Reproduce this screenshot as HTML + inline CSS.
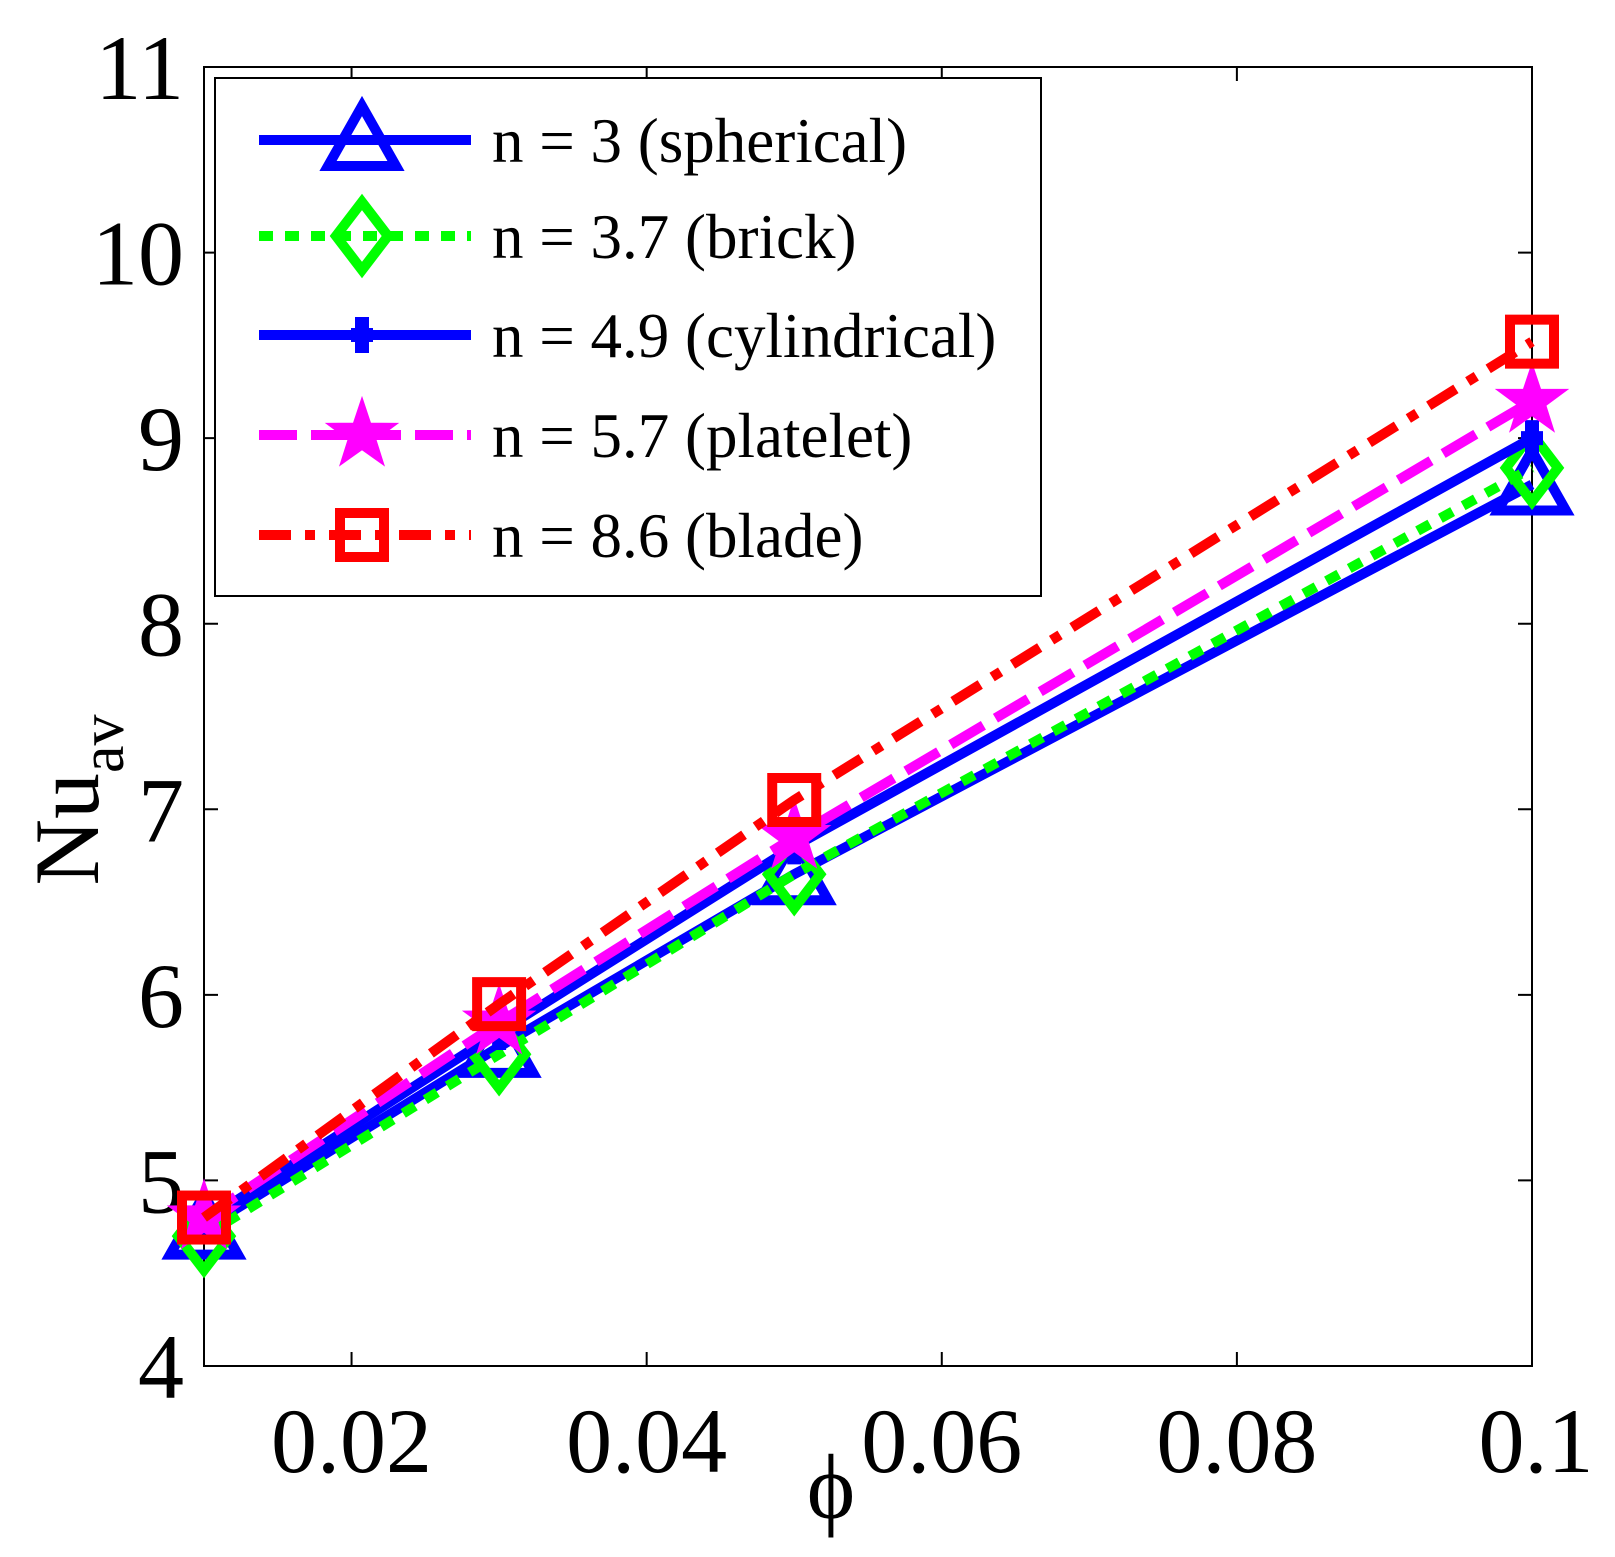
<!DOCTYPE html>
<html><head><meta charset="utf-8"><style>
html,body{margin:0;padding:0;background:#fff;}
svg{display:block;font-family:"Liberation Serif",serif;}
</style></head><body>
<svg id="chart" width="1615" height="1557" viewBox="0 0 1615 1557" xmlns="http://www.w3.org/2000/svg">
<rect width="1615" height="1557" fill="#fff"/>
<g id="plot"></g>
</svg>
<script>
const xs = [0.01, 0.03, 0.05, 0.1];
const sph = [4.74, 5.72, 6.65, 8.75];
const brick = [4.7, 5.68, 6.65, 8.84];
const cyl = [4.78, 5.8, 6.8, 9.0];
const plat = [4.8, 5.85, 6.85, 9.2];
const blade = [4.8, 5.95, 7.05, 9.52];
const labels = ["n = 3 (spherical)", "n = 3.7 (brick)", "n = 4.9 (cylindrical)", "n = 5.7 (platelet)", "n = 8.6 (blade)"];
const xTicks = [0.02, 0.04, 0.06, 0.08, 0.1];
const xTickLabels = ["0.02", "0.04", "0.06", "0.08", "0.1"];
const yTicks = [4, 5, 6, 7, 8, 9, 10, 11];

const L=204,R=1532,T=67,B=1366;
const X=v=>L+(v-0.01)/(0.1-0.01)*(R-L);
const Y=v=>B-(v-4)/(11-4)*(B-T);
const NS="http://www.w3.org/2000/svg";
const g=document.getElementById('plot');
function mk(tag,attrs,parent){const e=document.createElementNS(NS,tag);for(const k in attrs)e.setAttribute(k,attrs[k]);(parent||g).appendChild(e);return e;}

let ax=mk('rect',{x:L,y:T,width:R-L,height:B-T,fill:'none',stroke:'#000','stroke-width':2});


xTicks.forEach((t,i)=>{
  const x=X(t);
  let tk=mk('path',{d:`M${x} ${B}V${B-14}M${x} ${T}V${T+14}`,stroke:'#000','stroke-width':2});
  
  
  let tx=mk('text',{x:i==4?x+4:x,y:1472,'font-size':92,'text-anchor':'middle'});
  tx.textContent=xTickLabels[i];
  
  
});
yTicks.forEach(t=>{
  const y=Y(t);
  let tk=mk('path',{d:`M${L} ${y}H${L+14}M${R} ${y}H${R-14}`,stroke:'#000','stroke-width':2});
  
  
  let tx=mk('text',{x:184,y:y+32,'font-size':92,'text-anchor':'end'});
  tx.textContent=String(t);
  
  
});
let xl=mk('text',{x:831,y:1518,'font-size':92,'text-anchor':'middle'});
xl.textContent='\u03D5';


let yl=mk('text',{transform:'translate(98,800) rotate(-90)','font-size':92,'text-anchor':'middle'});
yl.innerHTML='Nu<tspan font-size="62" dy="25">av</tspan>';



const series=[
 {d:sph,c:'#0000ff',dash:'',m:'tri',n:'spherical'},
 {d:brick,c:'#00ff00',dash:'14 12',m:'dia',n:'brick'},
 {d:cyl,c:'#0000ff',dash:'',m:'dot',n:'cylindrical'},
 {d:plat,c:'#ff00ff',dash:'38 14',m:'star',n:'platelet'},
 {d:blade,c:'#ff0000',dash:'32 14 10 14',m:'sq',n:'blade'}
];
function marker(type,x,y,c,parent){
  let e;
  if(type=='tri') e=mk('path',{d:`M${x} ${y-34}L${x+34} ${y+26}L${x-34} ${y+26}Z`,fill:'none',stroke:c,'stroke-width':10},parent);
  else if(type=='dia') e=mk('path',{d:`M${x} ${y-34}L${x+26} ${y}L${x} ${y+34}L${x-26} ${y}Z`,fill:'none',stroke:c,'stroke-width':10},parent);
  else if(type=='dot') e=mk('path',{d:`M${x} ${y-18}V${y+18}M${x-11} ${y}H${x+11}`,stroke:c,'stroke-width':14},parent);
  else if(type=='star'){let p='';for(let k=0;k<10;k++){const r=k%2?14:36,a=-Math.PI/2+k*Math.PI/5;p+=(k?'L':'M')+(x+r*Math.cos(a))+' '+(y+r*Math.sin(a));}e=mk('path',{d:p+'Z',fill:c,stroke:c,'stroke-width':2},parent);}
  else e=mk('rect',{x:x-22,y:y-22,width:44,height:44,fill:'none',stroke:c,'stroke-width':10},parent);
  
  
}
series.forEach(s=>{
  const sg=mk('g',{});
  
  
  const pts=xs.map((v,i)=>X(v)+','+Y(s.d[i])).join(' ');
  let pl=mk('polyline',{points:pts,fill:'none',stroke:s.c,'stroke-width':10,'stroke-dasharray':s.dash},sg);
  
  
  xs.forEach((v,i)=>marker(s.m,X(v),Y(s.d[i]),s.c,sg));
});
const lg=mk('g',{});


let lb=mk('rect',{x:215,y:78,width:826,height:518,fill:'#fff',stroke:'#000','stroke-width':2},lg);


const ly=[140,236,335,435,535];
series.forEach((s,i)=>{
  const eg=mk('g',{},lg);
  
  
  let ln=mk('line',{x1:259,x2:471,y1:ly[i],y2:ly[i],stroke:s.c,'stroke-width':10,'stroke-dasharray':s.dash},eg);
  
  
  marker(s.m,362,ly[i],s.c,eg);
  let t=mk('text',{x:492,y:ly[i]+22,'font-size':63},eg);
  t.textContent=labels[i];
  
  
});
</script>
</body></html>
